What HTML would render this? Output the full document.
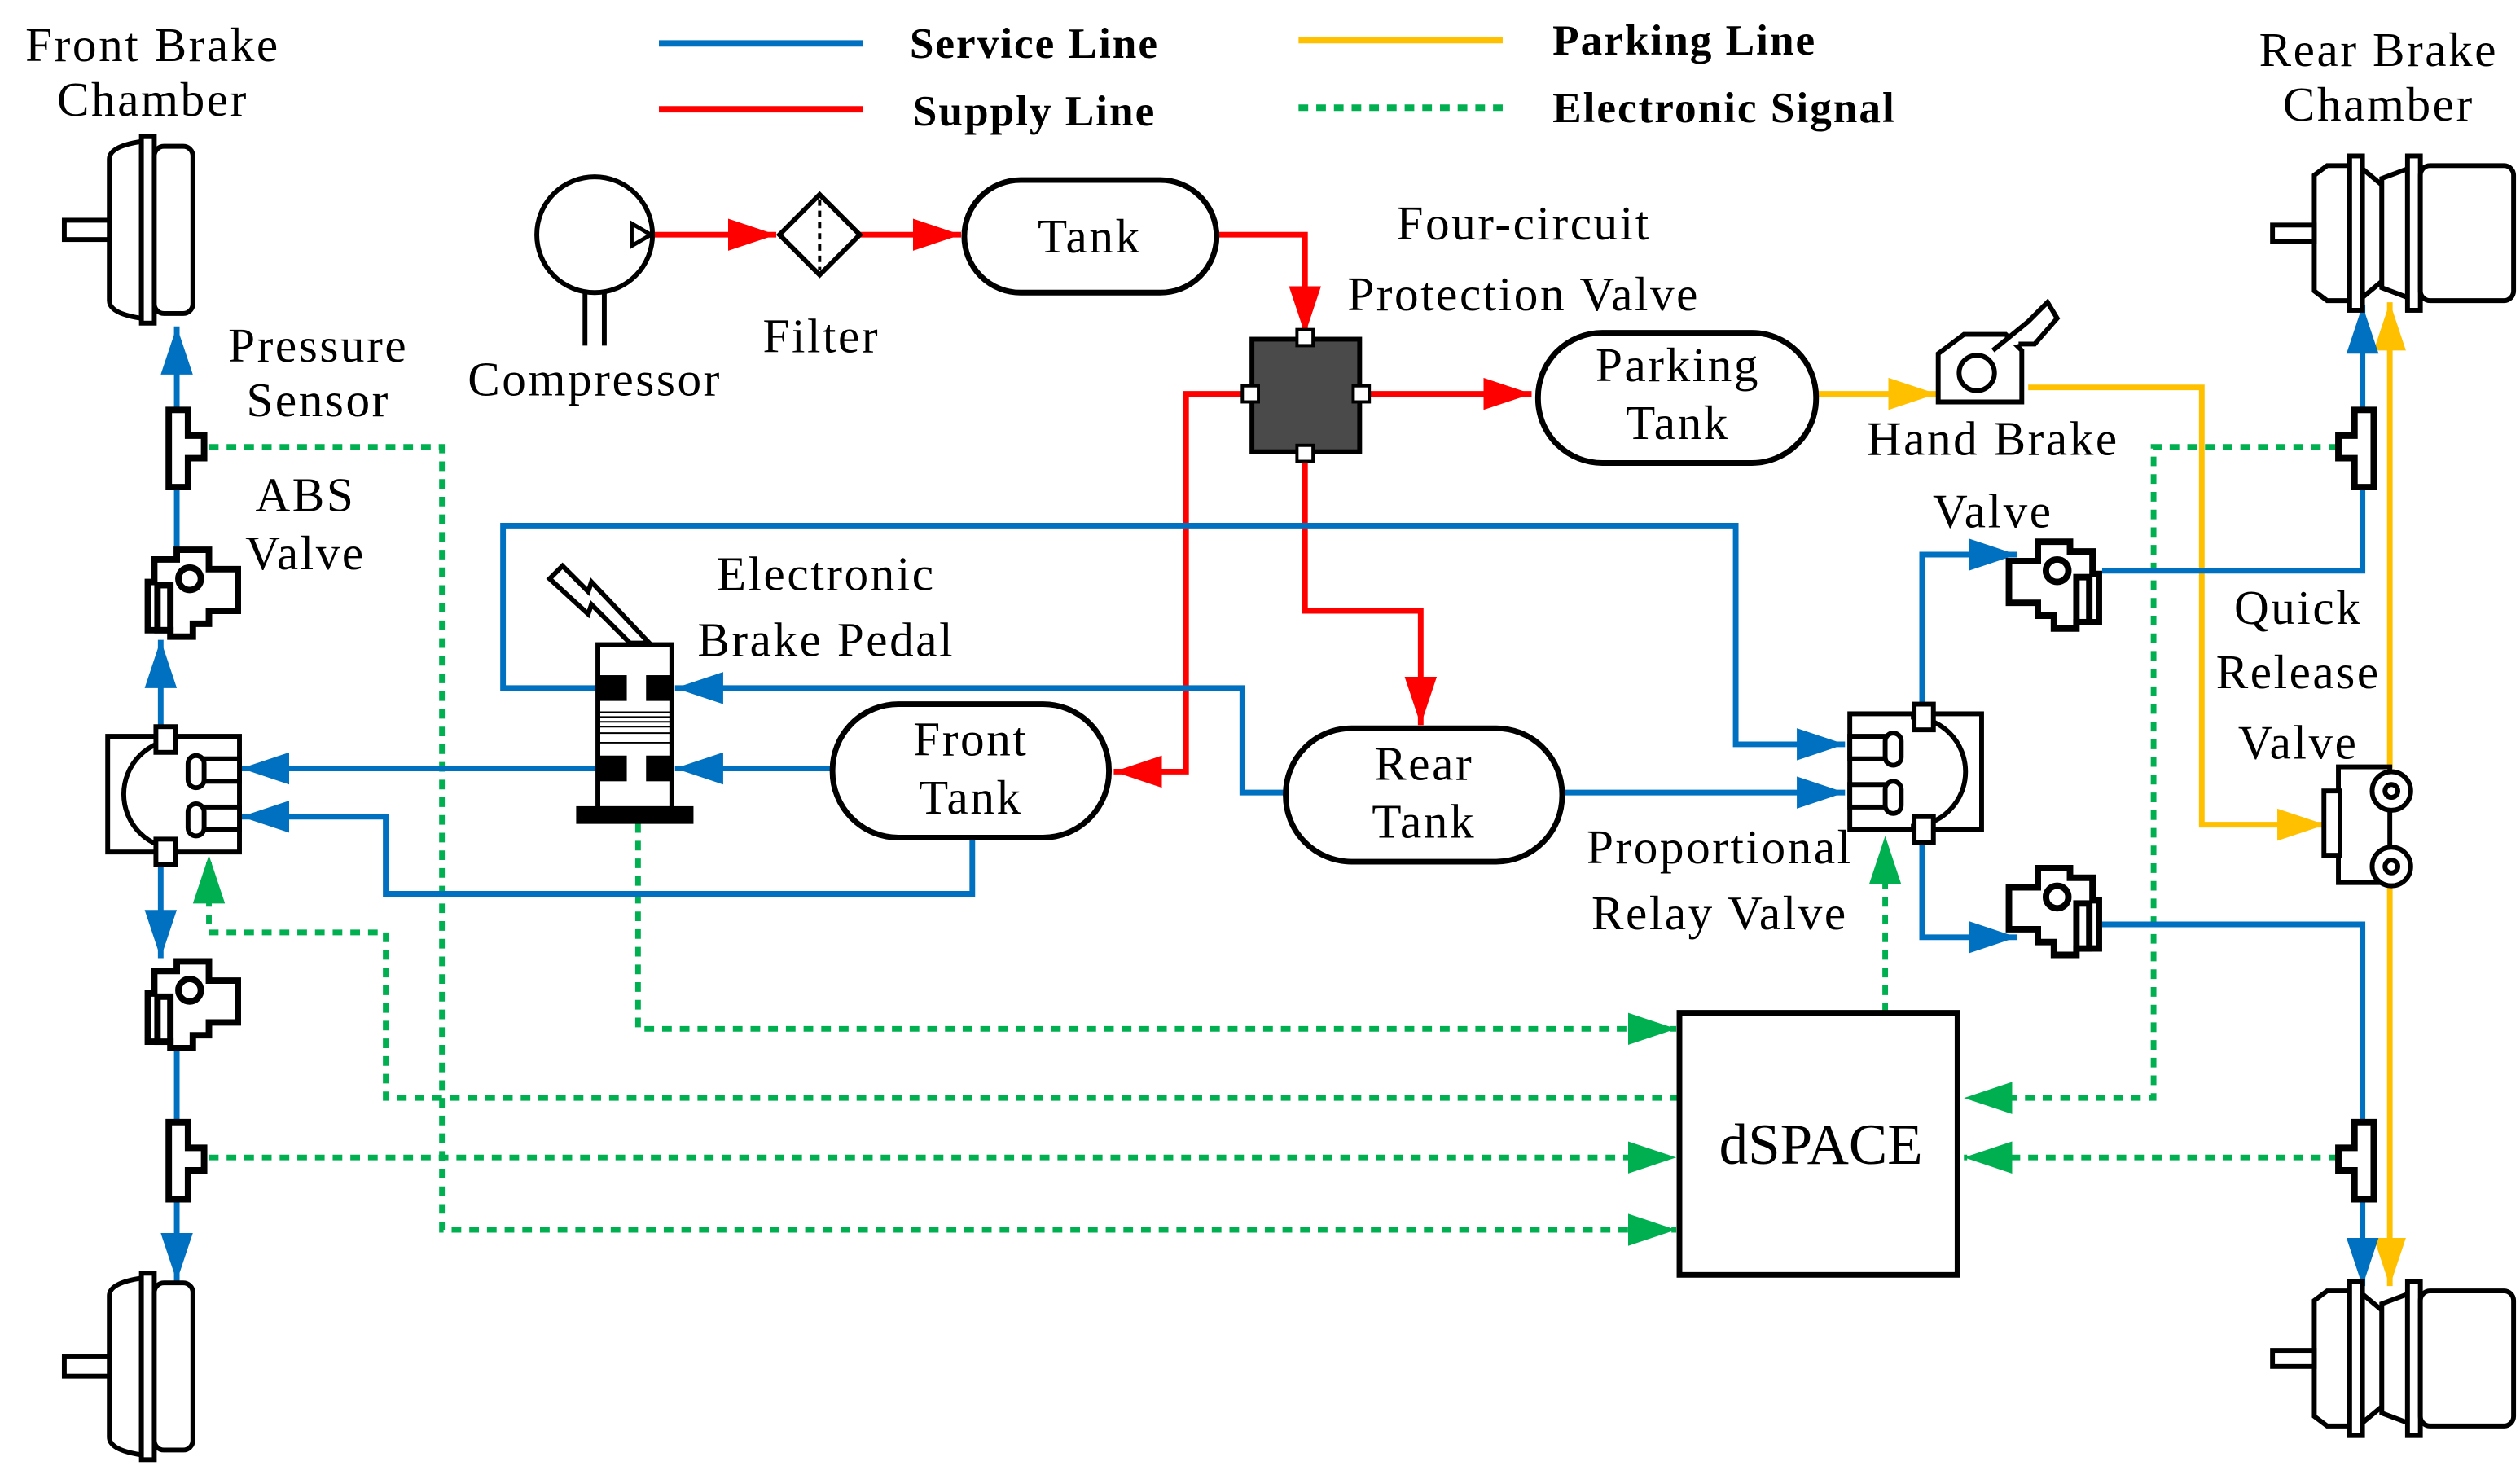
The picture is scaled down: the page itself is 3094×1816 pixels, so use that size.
<!DOCTYPE html>
<html><head><meta charset="utf-8"><style>
html,body{margin:0;padding:0;background:#fff;}
svg{display:block}
text{font-family:"Liberation Serif",serif;fill:#000}
</style></head><body>
<svg width="3094" height="1816" viewBox="0 0 1568 920" preserveAspectRatio="none" xmlns="http://www.w3.org/2000/svg">
<defs>
<marker id="ab" markerUnits="userSpaceOnUse" markerWidth="34" markerHeight="20" refX="30" refY="10" orient="auto"><path d="M0,0 L30,10 L0,20 Z" fill="#0070C0"/></marker>
<marker id="ar" markerUnits="userSpaceOnUse" markerWidth="34" markerHeight="20" refX="30" refY="10" orient="auto"><path d="M0,0 L30,10 L0,20 Z" fill="#FF0000"/></marker>
<marker id="ay" markerUnits="userSpaceOnUse" markerWidth="34" markerHeight="20" refX="30" refY="10" orient="auto"><path d="M0,0 L30,10 L0,20 Z" fill="#FFC000"/></marker>
<marker id="ag" markerUnits="userSpaceOnUse" markerWidth="34" markerHeight="20" refX="30" refY="10" orient="auto"><path d="M0,0 L30,10 L0,20 Z" fill="#00B050"/></marker>
<g id="chL" fill="#fff" stroke="#000" stroke-width="3">
<path d="M0,-44 Q0,-52 20,-55 L20,55 Q0,52 0,44 Z"/><rect x="20" y="-58" width="8" height="116"/><rect x="28" y="-52" width="24" height="104" rx="6"/>
<rect x="-28" y="-6" width="28" height="12"/></g>
<g id="chR" fill="#fff" stroke="#000" stroke-width="3">
<path d="M0,-36 L8,-42 L22,-42 L22,42 L8,42 L0,36 Z"/><rect x="22" y="-48" width="8" height="96"/><path d="M30,-40 L42,-30 L42,30 L30,40 Z"/><path d="M42,-34 L58,-40 L58,40 L42,34Z"/><rect x="58" y="-48" width="8" height="96"/><rect x="66" y="-42" width="58" height="84" rx="6"/>
<rect x="-26" y="-5" width="26" height="10"/></g>
<g id="ps" fill="#fff" stroke="#000" stroke-width="4"><path d="M0,0 H12 V16 H22 V30 H12 V48 H0 Z"/></g>
<g id="psR" fill="#fff" stroke="#000" stroke-width="4"><path d="M22,0 H10 V16 H0 V30 H10 V48 H22 Z"/></g>
<g id="abs" fill="#fff" stroke="#000" stroke-width="4"><path d="M6,6 H20 V0 H40 V12 H58 V38 H40 V46 H30 V54 H16 V50 H2 V20 H6 Z"/><circle cx="28" cy="18" r="7"/><rect x="8" y="22" width="8" height="28"/></g>
<g id="rv" fill="#fff" stroke="#000" stroke-width="3"><rect x="0" y="0" width="82" height="72"/><path d="M44,2 A34,34 0 1 0 44,70"/><rect x="30" y="-6" width="12" height="16"/><rect x="30" y="64" width="12" height="16"/><rect x="54" y="14" width="28" height="14"/><rect x="54" y="44" width="28" height="14"/><rect x="50" y="12" width="10" height="20" rx="5"/><rect x="50" y="42" width="10" height="20" rx="5"/></g>
</defs>

<!-- Legend -->
<g stroke-width="4" fill="none">
<line x1="410" y1="27" x2="537" y2="27" stroke="#0070C0"/>
<line x1="410" y1="68" x2="537" y2="68" stroke="#FF0000"/>
<line x1="808" y1="25" x2="935" y2="25" stroke="#FFC000"/>
<line x1="808" y1="67" x2="935" y2="67" stroke="#00B050" stroke-dasharray="6,5"/>
</g>
<g font-weight="bold" font-size="27" letter-spacing="1">
<text x="566" y="36">Service Line</text><text x="568" y="78">Supply Line</text>
<text x="966" y="34">Parking Line</text><text x="966" y="76">Electronic Signal</text>
</g>

<!-- Green signal lines -->
<g stroke="#00B050" stroke-width="3.5" fill="none" stroke-dasharray="6,5">
<path d="M130,278 H275 V765 H1043" marker-end="url(#ag)"/>
<path d="M130,720 H1043" marker-end="url(#ag)"/>
<path d="M397,512 V640 H1043" marker-end="url(#ag)"/>
<path d="M1045,683 H240 V580 H130 V532" marker-end="url(#ag)"/>
<path d="M1173,630 V520" marker-end="url(#ag)"/>
<path d="M1455,278 H1340 V683 H1222" marker-end="url(#ag)"/>
<path d="M1455,720 H1222" marker-end="url(#ag)"/>
</g>

<!-- Red supply -->
<g stroke="#FF0000" stroke-width="3.5" fill="none">
<path d="M405,146 H483" marker-end="url(#ar)"/>
<path d="M535,146 H598" marker-end="url(#ar)"/>
<path d="M757,146 H812 V208" marker-end="url(#ar)"/>
<path d="M847,245 H953" marker-end="url(#ar)"/>
<path d="M778,245 H738 V480 H693" marker-end="url(#ar)"/>
<path d="M812,282 V380 H884 V451" marker-end="url(#ar)"/>
</g>

<!-- Yellow parking -->
<g stroke="#FFC000" stroke-width="3.5" fill="none">
<path d="M1130,245 H1205" marker-end="url(#ay)"/>
<path d="M1262,241 H1370 V513 H1447" marker-end="url(#ay)"/>
<path d="M1487,478 V188" marker-end="url(#ay)"/>
<path d="M1487,548 V800" marker-end="url(#ay)"/>
</g>

<!-- Blue service -->
<g stroke="#0070C0" stroke-width="3.5" fill="none">
<path d="M110,255 V203" marker-end="url(#ab)"/>
<path d="M110,305 V345"/>
<path d="M100,455 V398" marker-end="url(#ab)"/>
<path d="M100,530 V596" marker-end="url(#ab)"/>
<path d="M110,650 V697"/>
<path d="M110,747 V797" marker-end="url(#ab)"/>
<path d="M372,428 H313 V327 H1080 V463 H1148" marker-end="url(#ab)"/>
<path d="M972,493 H1148" marker-end="url(#ab)"/>
<path d="M800,493 H773 V428 H420" marker-end="url(#ab)"/>
<path d="M518,478 H420" marker-end="url(#ab)"/>
<path d="M372,478 H150" marker-end="url(#ab)"/>
<path d="M605,521 V556 H240 V508 H150" marker-end="url(#ab)"/>
<path d="M1196,440 V345 H1255" marker-end="url(#ab)"/>
<path d="M1196,517 V583 H1255" marker-end="url(#ab)"/>
<path d="M1308,355 H1470 V190" marker-end="url(#ab)"/>
<path d="M1308,575 H1470 V800" marker-end="url(#ab)"/>
</g>

<!-- Left components -->
<use href="#chL" transform="translate(68,143)"/>
<use href="#chL" transform="translate(68,850)"/>
<use href="#ps" x="105" y="255"/>
<use href="#ps" x="105" y="698"/>
<use href="#abs" x="90" y="342"/>
<use href="#abs" x="90" y="598"/>
<use href="#rv" x="67" y="458"/>
<use href="#rv" transform="translate(1233,444) scale(-1,1)"/>

<!-- Right components -->
<use href="#chR" transform="translate(1440,145)"/>
<use href="#chR" transform="translate(1440,845)"/>
<use href="#psR" x="1455" y="255"/>
<use href="#psR" x="1455" y="698"/>
<use href="#abs" transform="translate(1308,337) scale(-1,1)"/>
<use href="#abs" transform="translate(1308,540) scale(-1,1)"/>
<!-- Quick release valve -->
<g fill="#fff" stroke="#000" stroke-width="3">
<rect x="1455" y="477" width="32" height="72"/><rect x="1446" y="492" width="10" height="40"/>
<circle cx="1488" cy="492" r="12"/><circle cx="1488" cy="492" r="4"/>
<circle cx="1488" cy="539" r="12"/><circle cx="1488" cy="539" r="4"/>
</g>
<!-- Hand brake valve -->
<g fill="#fff" stroke="#000" stroke-width="3">
<path d="M1206,243 V220 L1222,208 H1248 L1258,218 V250 H1206 Z"/>
<circle cx="1230" cy="232" r="11"/>
<path d="M1240,218 L1262,200 L1274,188 L1280,198 L1266,214 L1256,214"/>
</g>

<!-- Compressor & filter -->
<circle cx="370" cy="146" r="36" fill="#fff" stroke="#000" stroke-width="3"/>
<path d="M393,139 L405,146 L393,153 Z" fill="#fff" stroke="#000" stroke-width="2.5"/>
<g stroke="#000" stroke-width="3"><line x1="364" y1="182" x2="364" y2="215"/><line x1="376" y1="182" x2="376" y2="215"/></g>
<path d="M510,121 L535,146 L510,171 L485,146 Z" fill="#fff" stroke="#000" stroke-width="3"/>
<line x1="510" y1="124" x2="510" y2="168" stroke="#000" stroke-width="2" stroke-dasharray="4,3"/>

<!-- Tanks -->
<g fill="#fff" stroke="#000" stroke-width="3.5">
<rect x="600" y="112" width="157" height="70" rx="35"/>
<rect x="957" y="207" width="173" height="81" rx="40"/>
<rect x="518" y="438" width="172" height="83" rx="41"/>
<rect x="800" y="453" width="172" height="83" rx="41"/>
</g>
<!-- Four circuit valve -->
<rect x="779" y="211" width="67" height="70" fill="#4a4a4a" stroke="#000" stroke-width="3"/>
<g fill="#fff" stroke="#000" stroke-width="2"><rect x="807" y="205" width="10" height="10"/><rect x="807" y="277" width="10" height="10"/><rect x="773" y="240" width="10" height="10"/><rect x="842" y="240" width="10" height="10"/></g>

<!-- Pedal -->
<g stroke="#000" stroke-width="3" fill="#fff">
<path d="M342,360 L350,352 L366,368 L368,362 L404,400 L392,400 L368,376 L366,382 Z"/>
<rect x="372" y="401" width="46" height="102"/>
<rect x="360" y="503" width="70" height="8" fill="#000"/>
</g>
<g fill="#000"><rect x="372" y="420" width="18" height="16"/><rect x="402" y="420" width="16" height="16"/><rect x="372" y="470" width="18" height="16"/><rect x="402" y="470" width="16" height="16"/></g>
<g stroke="#000" stroke-width="1"><line x1="373" y1="443" x2="417" y2="443"/><line x1="373" y1="446" x2="417" y2="446"/><line x1="373" y1="449" x2="417" y2="449"/><line x1="373" y1="452" x2="417" y2="452"/><line x1="373" y1="456" x2="417" y2="456"/><line x1="373" y1="462" x2="417" y2="462"/></g>

<!-- dSPACE -->
<rect x="1045" y="630" width="173" height="163" fill="#fff" stroke="#000" stroke-width="3.5"/>
<text x="1133" y="724" font-size="36" text-anchor="middle">dSPACE</text>

<!-- Labels -->
<g font-size="30" text-anchor="middle" letter-spacing="1.3">
<text x="95" y="38">Front Brake</text><text x="95" y="72">Chamber</text>
<text x="1480" y="41">Rear Brake</text><text x="1480" y="75">Chamber</text>
<text x="198" y="225">Pressure</text><text x="198" y="259">Sensor</text>
<text x="190" y="318">ABS</text><text x="190" y="354">Valve</text>
<text x="370" y="246">Compressor</text>
<text x="511" y="219">Filter</text>
<text x="678" y="157">Tank</text>
<text x="948" y="149">Four-circuit</text><text x="948" y="193">Protection Valve</text>
<text x="1044" y="237">Parking</text><text x="1044" y="273">Tank</text>
<text x="1240" y="283">Hand Brake</text><text x="1240" y="328">Valve</text>
<text x="514" y="367">Electronic</text><text x="514" y="408">Brake Pedal</text>
<text x="604" y="470">Front</text><text x="604" y="506">Tank</text>
<text x="886" y="485">Rear</text><text x="886" y="521">Tank</text>
<text x="1070" y="537">Proportional</text><text x="1070" y="578">Relay Valve</text>
<text x="1430" y="388">Quick</text><text x="1430" y="428">Release</text><text x="1430" y="472">Valve</text>
</g>
</svg>
</body></html>
